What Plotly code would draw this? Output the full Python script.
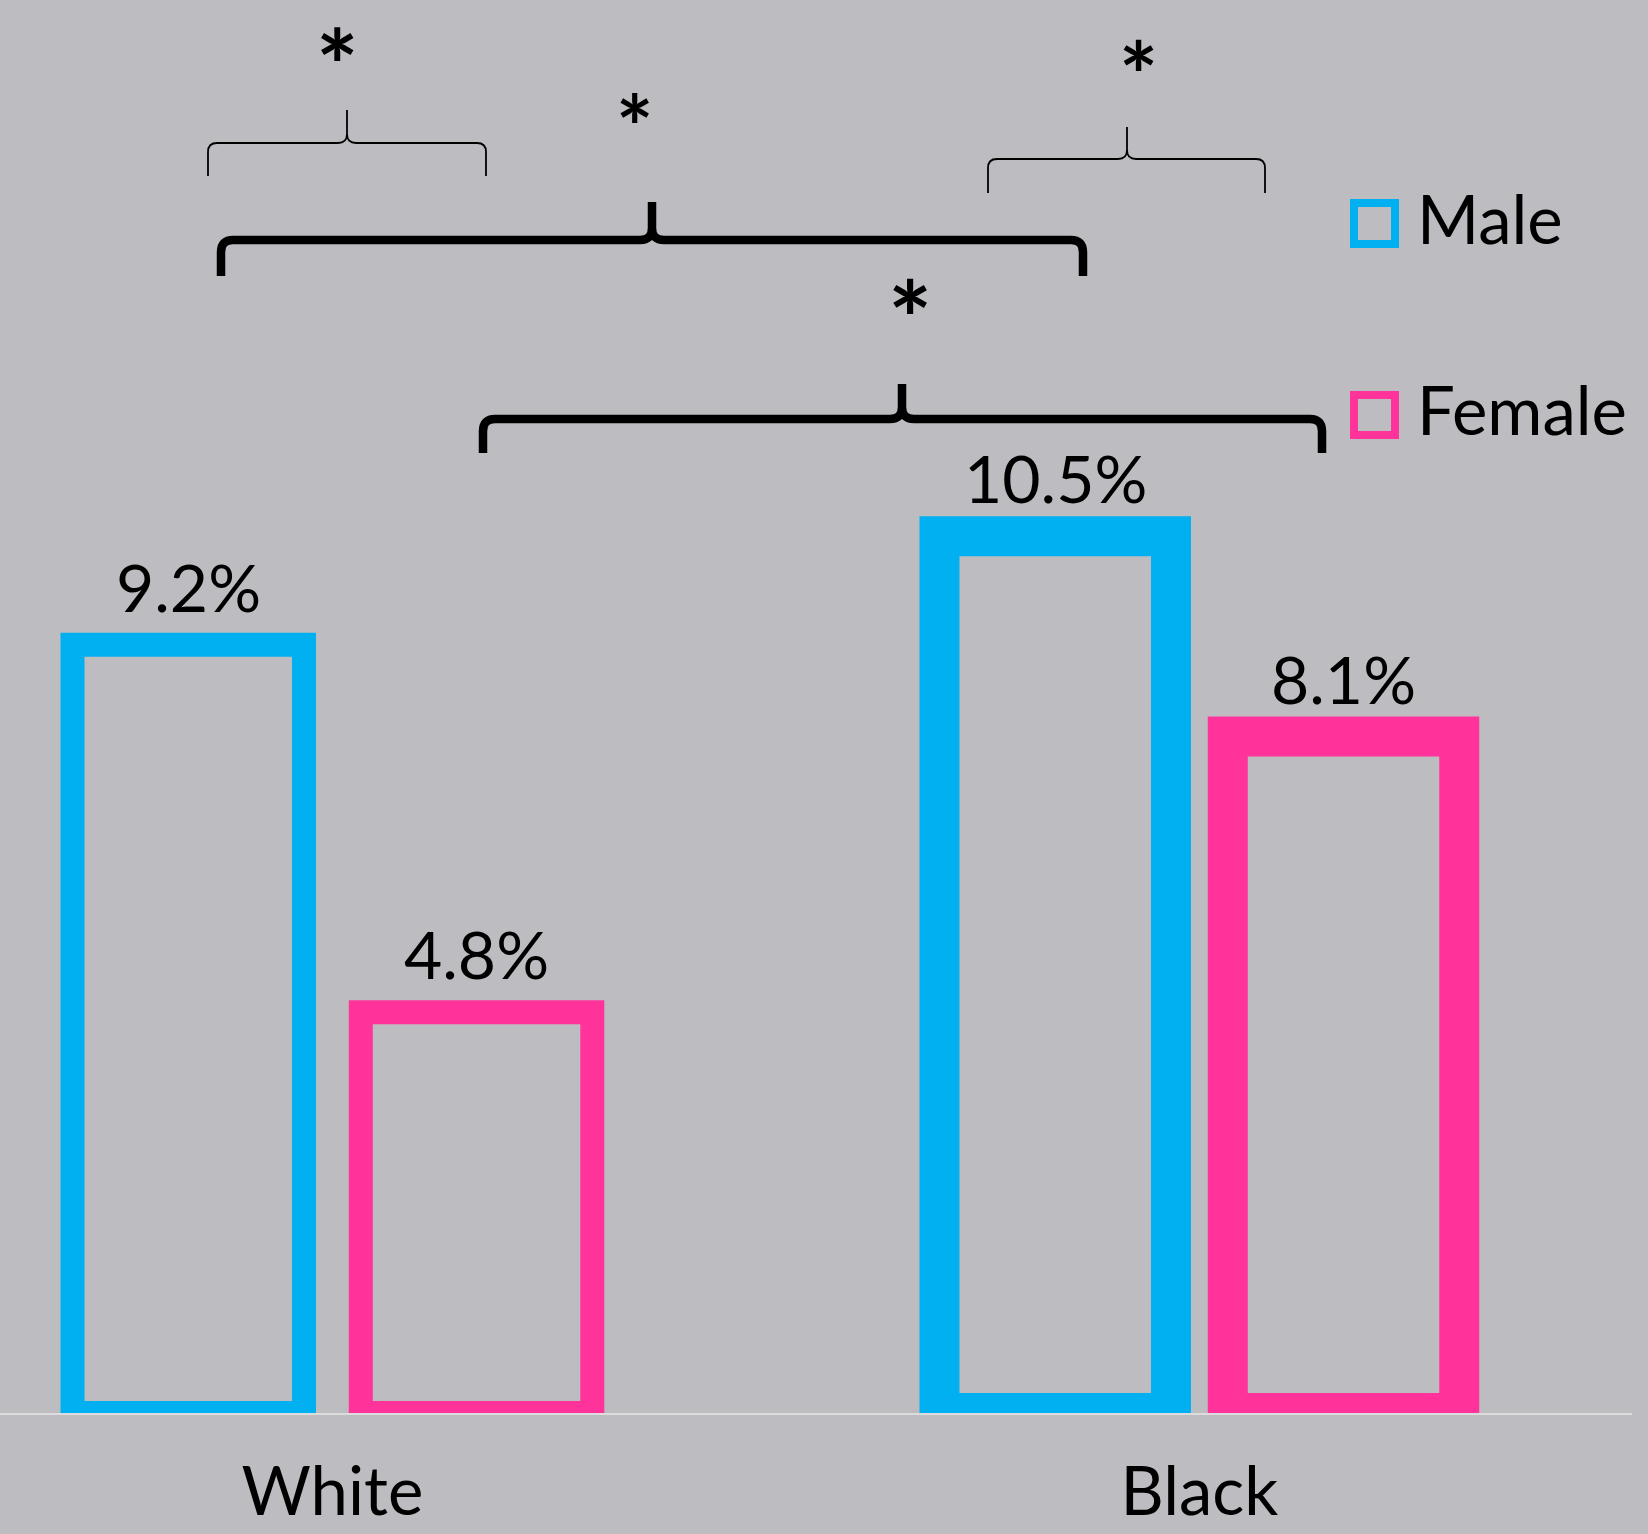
import plotly.graph_objects as go

# ---------------- data ----------------
categories = ["White", "Black"]
series_names = ["Male", "Female"]
male_values = [9.2, 10.5]
female_values = [4.8, 8.1]
male_labels = ["9.2%", "10.5%"]
female_labels = ["4.8%", "8.1%"]

# ---------------- style / layout constants ----------------
W, H = 1648, 1534
M_L, M_R, M_T, M_B = 0, 16, 0, 121
PW, PH = W - M_L - M_R, H - M_T - M_B
BG = "#bdbcc1"
CYAN = "#00b0f0"
PINK = "#ff3399"
FONT = "Lato"
BARGAP = 0.335
BARGROUPGAP = 0.197
X_RANGE = [-0.3834, 1.499]
Y_RANGE = [0, 16.92]
LINE_W = [24, 40]  # outline width per category (White, Black)


def px(x):
    return (x - M_L) / PW


def py(y):
    return 1 - (y - M_T) / PH


fig = go.Figure()
fig.add_trace(go.Bar(
    x=categories, y=male_values, name=series_names[0],
    marker=dict(color="rgba(0,0,0,0)", line=dict(color=CYAN, width=LINE_W)),
    showlegend=False, hoverinfo="skip",
))
fig.add_trace(go.Bar(
    x=categories, y=female_values, name=series_names[1],
    marker=dict(color="rgba(0,0,0,0)", line=dict(color=PINK, width=LINE_W)),
    showlegend=False, hoverinfo="skip",
))

annotations = []
offset = (1 - BARGAP) / 4
for i, cat in enumerate(categories):
    for sgn, vals, labs in ((-1, male_values, male_labels), (1, female_values, female_labels)):
        annotations.append(dict(
            x=i + sgn * offset, y=vals[i], xref="x", yref="y",
            text=labs[i], showarrow=False, yanchor="bottom", xanchor="center",
            yshift=17, font=dict(family=FONT, size=66, color="black"),
        ))

# ---------------- braces ----------------
def brace_path(xL, xR, xm, yh, yB, yT, r):
    def P(x, y):
        return f"{px(x):.5f},{py(y):.5f}"
    s = (f"M{P(xL, yB)} L{P(xL, yh + r)} Q{P(xL, yh)} {P(xL + r, yh)} "
         f"L{P(xm - r, yh)} Q{P(xm, yh)} {P(xm, yh - r)} L{P(xm, yT)} "
         f"M{P(xm, yh - r)} Q{P(xm, yh)} {P(xm + r, yh)} "
         f"L{P(xR - r, yh)} Q{P(xR, yh)} {P(xR, yh + r)} L{P(xR, yB)}")
    return s

braces = [
    # xL, xR, xm, yh, yB, yT, r, width
    (208, 486, 347, 143, 176, 110, 9, 1.8),
    (221, 1083, 652, 240, 276, 202, 12, 8.5),
    (988, 1265, 1127, 159, 193, 127, 9, 1.8),
    (483, 1322, 902, 419, 453, 384, 12, 8.5),
]
shapes = []
for b in braces:
    shapes.append(dict(type="path", xref="paper", yref="paper",
                       path=brace_path(*b[:7]),
                       line=dict(color="black", width=b[7])))

stars = [
    # center x, center y, font size
    (337, 48, 100),
    (634, 112, 88),
    (1138, 60, 92),
    (910, 300, 104),
]
for sx, sy, ss in stars:
    annotations.append(dict(
        x=px(sx), y=py(sy + 0.16 * ss), xref="paper", yref="paper",
        text="*", showarrow=False, xanchor="center", yanchor="middle",
        font=dict(family=FONT, size=ss, color="black", weight="bold"),
    ))

# ---------------- manual legend ----------------
legend_items = [(series_names[0], CYAN, 203, 244), (series_names[1], PINK, 395, 435)]
for name, col, y0, y1 in legend_items:
    shapes.append(dict(type="rect", xref="paper", yref="paper",
                       x0=px(1354), x1=px(1395), y0=py(y1), y1=py(y0),
                       line=dict(color=col, width=8), fillcolor="rgba(0,0,0,0)"))
    annotations.append(dict(
        x=px(1415), y=py(y1 + 16), xref="paper", yref="paper",
        text=name, showarrow=False, xanchor="left", yanchor="bottom",
        font=dict(family=FONT, size=67, color="black"),
    ))

fig.update_layout(
    width=W, height=H,
    margin=dict(l=M_L, r=M_R, t=M_T, b=M_B, pad=0, autoexpand=False),
    paper_bgcolor=BG, plot_bgcolor=BG,
    barmode="group", bargap=BARGAP, bargroupgap=BARGROUPGAP,
    xaxis=dict(range=X_RANGE, showgrid=False, zeroline=False, automargin=False,
               showline=True, linecolor="#dcdcdc", linewidth=2, layer="below traces",
               ticks="", ticklabelstandoff=20,
               tickfont=dict(family=FONT, size=67, color="black"), fixedrange=True),
    yaxis=dict(range=Y_RANGE, visible=False, showgrid=False, zeroline=False,
               automargin=False, fixedrange=True),
    shapes=shapes, annotations=annotations,
    showlegend=False,
)

fig.write_html("out.html")
